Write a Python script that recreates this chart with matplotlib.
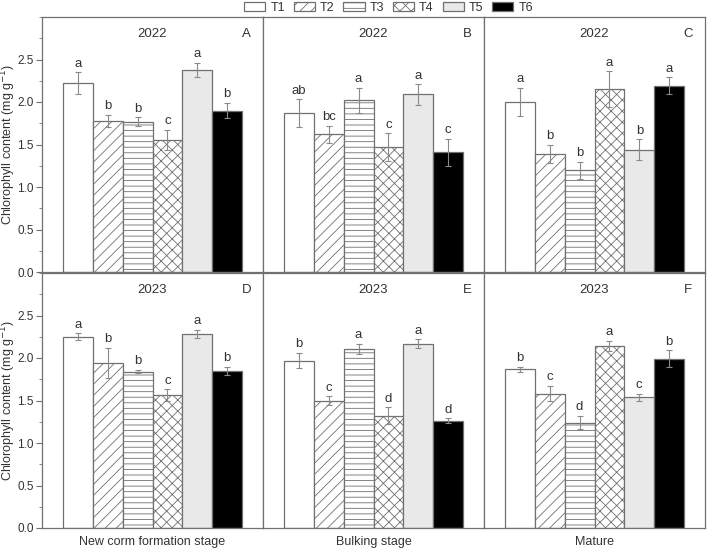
import numpy as np
import matplotlib
matplotlib.use("Agg")
import matplotlib.pyplot as plt
from matplotlib.patches import Patch
from matplotlib.ticker import MultipleLocator

plt.rcParams['font.family'] = ['Liberation Sans', 'DejaVu Sans']
plt.rcParams['hatch.linewidth'] = 0.6

treatments = ["T1", "T2", "T3", "T4", "T5", "T6"]
stages = ["New corm formation stage", "Bulking stage", "Mature"]
years = ["2022", "2023"]
panel_ids = [["A", "B", "C"], ["D", "E", "F"]]

# mean chlorophyll content, rows = year, cols = stage
means_2022 = [
    [2.22, 1.78, 1.77, 1.55, 2.38, 1.90],
    [1.87, 1.62, 2.02, 1.47, 2.09, 1.41],
    [2.00, 1.39, 1.20, 2.15, 1.44, 2.19],
]
errs_2022 = [
    [0.13, 0.07, 0.05, 0.12, 0.08, 0.09],
    [0.16, 0.10, 0.15, 0.16, 0.12, 0.16],
    [0.17, 0.11, 0.10, 0.21, 0.12, 0.10],
]
letters_2022 = [
    ["a", "b", "b", "c", "a", "b"],
    ["ab", "bc", "a", "c", "a", "c"],
    ["a", "b", "b", "a", "b", "a"],
]
means_2023 = [
    [2.25, 1.94, 1.84, 1.56, 2.28, 1.85],
    [1.97, 1.50, 2.11, 1.32, 2.17, 1.26],
    [1.87, 1.58, 1.24, 2.14, 1.54, 1.99],
]
errs_2023 = [
    [0.04, 0.18, 0.02, 0.07, 0.05, 0.05],
    [0.09, 0.05, 0.06, 0.10, 0.05, 0.03],
    [0.03, 0.09, 0.08, 0.06, 0.04, 0.10],
]
letters_2023 = [
    ["a", "b", "b", "c", "a", "b"],
    ["b", "c", "a", "d", "a", "d"],
    ["b", "c", "d", "a", "c", "b"],
]

means = [means_2022, means_2023]
errs = [errs_2022, errs_2023]
letters = [letters_2022, letters_2023]

edge = "#707070"
txt = "#333333"
faces = ["white", "white", "white", "white", "#e9e9e9", "black"]
hatches = [None, "///", "---", "xxx", None, None]

fig = plt.figure(figsize=(7.09, 5.48), dpi=100)

left, width = 42 / 709, 221 / 709
bottoms = [1 - 272 / 548, 1 - 528 / 548]
height = 255 / 548

x = np.arange(len(treatments))
for r in range(2):
    for c in range(3):
        ax = fig.add_axes([left + c * width, bottoms[r], width, height])
        m = means[r][c]
        e = errs[r][c]
        for i in range(len(treatments)):
            ax.bar(x[i], m[i], width=1.0, color=faces[i], edgecolor=edge,
                   hatch=hatches[i], linewidth=0.9, zorder=2)
        ax.errorbar(x, m, yerr=e, fmt="none", ecolor="#8a8a8a", elinewidth=0.8,
                    capsize=2, capthick=0.8, zorder=3)
        for i in range(len(treatments)):
            ax.text(x[i], m[i] + e[i] + 0.03, letters[r][c][i], ha="center",
                    va="bottom", fontsize=9.5, color=txt)
        ax.text(0.5, 0.955, years[r], transform=ax.transAxes, ha="center",
                va="top", fontsize=9.5, color=txt)
        ax.text(0.925, 0.955, panel_ids[r][c], transform=ax.transAxes, ha="center",
                va="top", fontsize=9.5, color=txt)
        ax.set_xlim(-1.2, 6.2)
        ax.set_ylim(0, 3.0)
        ax.set_xticks([])
        for s in ax.spines.values():
            s.set_color(edge)
            s.set_linewidth(0.9)
        if c == 0:
            ax.yaxis.set_major_locator(MultipleLocator(0.5))
            ax.yaxis.set_minor_locator(MultipleLocator(0.25))
            ax.set_yticks(np.arange(0, 2.51, 0.5))
            ax.tick_params(axis="y", which="both", direction="out", color=edge,
                           labelsize=8.5, labelcolor=txt, pad=2)
            ax.tick_params(axis="y", which="major", length=4)
            ax.tick_params(axis="y", which="minor", length=2.5)
            ax.set_ylabel("Chlorophyll content (mg g$^{-1}$)", fontsize=9,
                          color=txt)
            ax.yaxis.set_label_coords(-0.11, 0.5)
        else:
            ax.set_yticks([])
            ax.yaxis.set_minor_locator(plt.NullLocator())
        if r == 1:
            ax.set_xlabel(stages[c], fontsize=9, color=txt, labelpad=6)

handles = [Patch(facecolor=faces[i], edgecolor=edge, hatch=hatches[i], linewidth=0.9)
           for i in range(len(treatments))]
fig.legend(handles, treatments, loc="center", bbox_to_anchor=(0.548, 0.985), ncol=6,
           frameon=False, fontsize=9, handlelength=1.7, handleheight=0.75,
           columnspacing=0.7, handletextpad=0.4, labelcolor=txt,
           borderaxespad=0, borderpad=0)

fig.savefig("out.png", dpi=100)
